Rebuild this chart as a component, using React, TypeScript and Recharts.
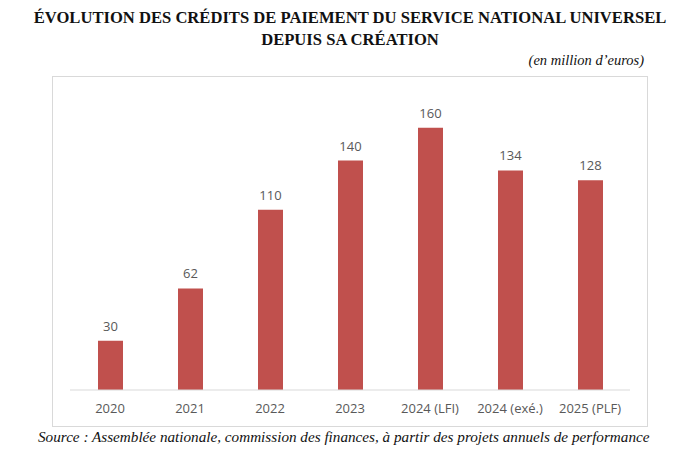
import React from "react";
import { BarChart, Bar, XAxis, YAxis, LabelList } from "recharts";

const categories = ["2020", "2021", "2022", "2023", "2024 (LFI)", "2024 (exé.)", "2025 (PLF)"];
const values = [30, 62, 110, 140, 160, 134, 128];

const data = categories.map((c, i) => ({ name: c, value: values[i] }));

export default function App() {
  return (
    <div style={{ position: "absolute", left: 0, top: 0, width: 700, height: 450, background: "#fff", overflow: "hidden" }}>
      <div style={{ position: "absolute", left: 0, top: 7, width: 700, textAlign: "center", fontFamily: "'Liberation Serif', serif", fontWeight: "bold", fontSize: 16.6, lineHeight: "22px", color: "#111" }}>
        ÉVOLUTION DES CRÉDITS DE PAIEMENT DU SERVICE NATIONAL UNIVERSEL
        <br />
        DEPUIS SA CRÉATION
      </div>
      <div style={{ position: "absolute", right: 56, top: 52, fontFamily: "'Liberation Serif', serif", fontStyle: "italic", fontSize: 14.5, color: "#111" }}>
        (en million d’euros)
      </div>
      <div style={{ position: "absolute", left: 52, top: 76, width: 596, height: 351, border: "1px solid #d9d9d9", boxSizing: "border-box" }} />
      <div style={{ position: "absolute", left: 0, top: 0 }}>
        <BarChart width={700} height={450} data={data} margin={{ top: 95, right: 70, bottom: 30, left: 70 }}>
          <YAxis hide domain={[0, 180]} />
          <XAxis
            dataKey="name"
            height={30}
            axisLine={{ stroke: "#d9d9d9" }}
            tickLine={false}
            tick={{ fill: "#595959", fontSize: 13, fontFamily: "'Open Sans', sans-serif" }}
            tickMargin={8}
          />
          <Bar dataKey="value" fill="#C0504D" barSize={25} isAnimationActive={false}>
            <LabelList dataKey="value" position="top" offset={10} fill="#595959" fontSize={13} fontFamily="'Open Sans', sans-serif" />
          </Bar>
        </BarChart>
      </div>
      <div style={{ position: "absolute", left: 38, top: 428, fontFamily: "'Liberation Serif', serif", fontStyle: "italic", fontSize: 15.2, color: "#111", whiteSpace: "nowrap" }}>
        Source : Assemblée nationale, commission des finances, à partir des projets annuels de performance
      </div>
    </div>
  );
}
